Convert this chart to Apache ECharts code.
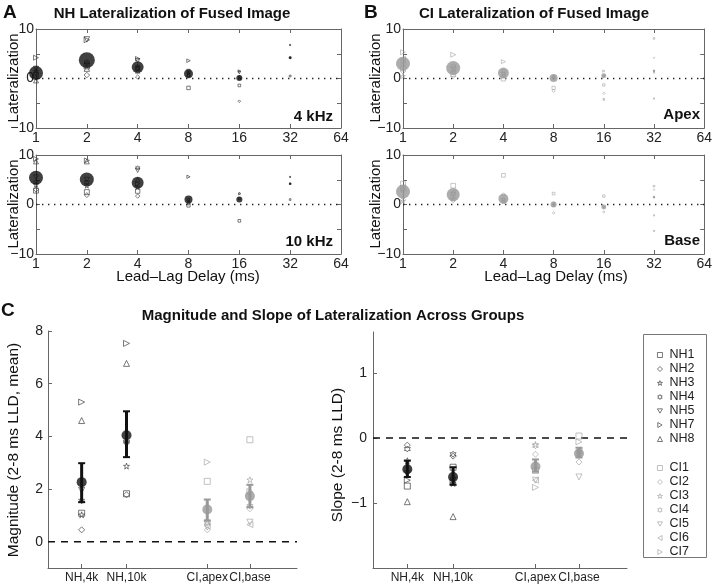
<!DOCTYPE html>
<html>
<head>
<meta charset="utf-8">
<script src="https://cdn.jsdelivr.net/npm/echarts@6/dist/echarts.min.js"></script>
<style>html,body{margin:0;padding:0;background:#fff}#c{width:715px;height:584px}</style>
</head>
<body>
<div id="c"></div>
<script>
// ---------- data ----------
const delays = [1, 2, 4, 8, 16, 32];
const delayTicks = [1, 2, 4, 8, 16, 32, 64];
const nhSubjects = ['NH1', 'NH2', 'NH3', 'NH4', 'NH5', 'NH7', 'NH8'];
const ciSubjects = ['CI1', 'CI2', 'CI3', 'CI4', 'CI5', 'CI6', 'CI7'];

// Panel A, 4 kHz
const nh4kMean = [1.1, 3.7, 2.3, 0.95, 0.1, 4.2];
const nh4kFused = [0.86, 1.0, 0.71, 0.5, 0.29, 0.07];
const nh4kSubj = [
  [0.8, 2.5, 2.0, -1.9, -1.4, 0.5],
  [0.3, 0.7, 0.3, 0.5, -4.6, null],
  [1.5, 3.0, 2.5, 1.0, 0.3, 6.8],
  [1.0, 3.3, 2.0, 1.2, 0.0, 4.2],
  [2.0, 7.9, 3.6, 1.5, 1.2, null],
  [4.2, 7.8, 4.0, 3.6, 1.5, null],
  [-0.4, 2.0, 1.5, 0.8, null, null]
];
// Panel A, 10 kHz
const nh10kMean = [5.4, 5.05, 4.4, 1.0, 1.0, 4.2];
const nh10kFused = [0.86, 0.86, 0.71, 0.43, 0.29, 0.04];
const nh10kSubj = [
  [2.8, 2.5, 2.7, -0.2, -3.3, 1.0],
  [3.0, 1.9, 1.7, 0.2, null, null],
  [4.0, 3.8, 3.5, 0.5, 2.2, 5.6],
  [4.5, 4.5, 7.4, 1.0, 1.2, 4.2],
  [5.5, 5.0, 6.9, null, null, null],
  [9.2, 8.9, 4.2, 5.6, null, null],
  [8.7, 8.7, 5.0, null, null, null]
];
// Panel B, apex
const ciApexMean = [3.0, 2.1, 1.1, 0.1, 0.55, 1.5];
const ciApexFused = [0.86, 0.86, 0.64, 0.43, 0.21, 0.03];
const ciApexSubj = [
  [2.0, 0.9, -0.1, -1.9, -1.3, 8.1],
  [1.4, 0.5, 0.5, -2.5, -3.0, 4.2],
  [0.5, 1.5, 1.0, 0.5, -4.2, 1.6],
  [3.5, 2.5, 1.5, 0.1, 0.5, 1.2],
  [2.5, 1.8, 0.8, 0.0, null, -4.1],
  [4.0, 2.2, 0.6, null, null, null],
  [5.3, 4.8, 3.4, null, 1.5, null]
];
// Panel B, base
const ciBaseMean = [2.6, 2.0, 1.15, 0.0, -0.5, 1.5];
const ciBaseFused = [0.86, 0.79, 0.57, 0.29, 0.21, 0.03];
const ciBaseSubj = [
  [4.2, 3.8, 5.9, 2.2, 1.7, 3.7],
  [1.0, 0.8, 2.0, -1.7, -1.5, 3.0],
  [0.7, 1.1, 0.5, 0.3, -0.5, 1.5],
  [3.0, 2.2, 1.0, -0.2, null, -2.2],
  [2.5, 2.0, 0.8, null, null, -5.4],
  [3.5, 2.5, 0.7, null, null, null],
  [3.2, 1.5, null, null, null, null]
];

// Panel C
const groups = ['NH,4k', 'NH,10k', 'CI,apex', 'CI,base'];
const groupPos = [1, 2, 3.8, 4.75];
const magMean = [2.26, 4.04, 1.22, 1.73];
const magLo = [1.5, 3.21, 0.8, 1.31];
const magHi = [2.98, 4.95, 1.6, 2.16];
const slopeMean = [-0.48, -0.6, -0.44, -0.24];
const slopeLo = [-0.6, -0.72, -0.52, -0.3];
const slopeHi = [-0.35, -0.45, -0.33, -0.15];
const nhMag = [[1.08, 1.82], [0.45, 1.78], [1.02, 2.87], [1.55, 3.8], [1.95, 3.7], [5.3, 7.53], [4.6, 6.77]];
const ciMag = [[2.29, 3.87], [0.45, 1.25], [0.8, 2.35], [0.7, 1.35], [0.55, 0.74], [0.6, 0.65], [3.02, 1.9]];
const nhSlope = [[-0.74, -0.45], [-0.11, -0.28], [-0.35, -0.7], [-0.17, -0.25], [-0.55, -0.65], [-0.65, -0.68], [-0.98, -1.21]];
const ciSlope = [[-0.5, 0.03], [-0.25, -0.37], [-0.1, -0.2], [-0.12, -0.25], [-0.65, -0.6], [-0.65, -0.2], [-0.76, -0.06]];

// ---------- styles ----------
const FONT = 'Liberation Sans, Arial, Helvetica, sans-serif';
const AX = '#666';
const TXT = '#222';
const NH_C = '#333', CI_C = '#a8a8a8', NH_MEAN = '#111', CI_MEAN = '#999';
const SYM = {
  square: 'rect',
  diamond: 'diamond',
  star: 'path://M5,0L6.18,3.62L10,3.62L6.91,5.86L8.09,9.51L5,7.27L1.91,9.51L3.09,5.86L0,3.62L3.82,3.62Z',
  hex: 'path://M5,0L6.44,2.5L9.33,2.5L7.89,5L9.33,7.5L6.44,7.5L5,10L3.56,7.5L0.67,7.5L2.11,5L0.67,2.5L3.56,2.5Z',
  down: 'path://M0,0L10,0L5,8.66Z',
  right: 'path://M0,0L8.66,5L0,10Z',
  left: 'path://M8.66,0L0,5L8.66,10Z',
  up: 'triangle'
};
const nhSym = [SYM.square, SYM.diamond, SYM.star, SYM.hex, SYM.down, SYM.right, SYM.up];
const ciSym = [SYM.square, SYM.diamond, SYM.star, SYM.hex, SYM.down, SYM.left, SYM.right];

function hollow(c, w) { return { color: 'rgba(255,255,255,0)', borderColor: c, borderWidth: w || 0.9 }; }

// ---------- layout ----------
const grids = [
  { left: 36, top: 29, width: 305, height: 99 },
  { left: 36, top: 155, width: 305, height: 99 },
  { left: 403, top: 29, width: 304, height: 99 },
  { left: 403, top: 155, width: 304, height: 99 },
  { left: 48, top: 331, width: 249, height: 237 },
  { left: 373, top: 332, width: 254, height: 237 }
];

const xAxes = [], yAxes = [], series = [];
for (let g = 0; g < 4; g++) {
  xAxes.push({
    gridIndex: g, type: 'log', logBase: 2, min: 1, max: 64, position: 'bottom',
    axisLine: { onZero: false, lineStyle: { color: AX } },
    axisTick: { inside: true, length: 4, lineStyle: { color: AX } },
    axisLabel: { color: TXT, fontSize: 14, fontFamily: FONT, margin: 3 },
    splitLine: { show: false }, minorTick: { show: false }
  });
}
for (let g = 0; g < 4; g++) {
  xAxes.push({
    gridIndex: g, type: 'log', logBase: 2, min: 1, max: 64, position: 'top',
    axisLine: { onZero: false, lineStyle: { color: AX } },
    axisTick: { inside: true, length: 4, lineStyle: { color: AX } },
    axisLabel: { show: false }, splitLine: { show: false }
  });
}
for (let g = 0; g < 4; g++) {
  yAxes.push({
    gridIndex: g, type: 'value', min: -10, max: 10, interval: 5, position: 'left',
    axisLine: { show: true, onZero: false, lineStyle: { color: AX } },
    axisTick: { show: true, inside: true, length: 4, lineStyle: { color: AX } },
    axisLabel: {
      color: TXT, fontSize: 14, fontFamily: FONT, margin: 2,
      formatter: v => (v === 10 ? '10' : v === 0 ? '0' : v === -10 ? '\u221210' : '')
    },
    splitLine: { show: false }
  });
}
for (let g = 0; g < 4; g++) {
  yAxes.push({
    gridIndex: g, type: 'value', min: -10, max: 10, interval: 5, position: 'right',
    axisLine: { show: true, onZero: false, lineStyle: { color: AX } },
    axisTick: { show: true, inside: true, length: 4, lineStyle: { color: AX } },
    axisLabel: { show: false }, splitLine: { show: false }
  });
}
// Panel C axes (x index 8, 9; y index 8, 9)
[4, 5].forEach(g => {
  xAxes.push({
    gridIndex: g, type: 'value', min: 0.25, max: 5.8,
    axisLine: { onZero: false, lineStyle: { color: AX } },
    axisTick: { inside: true, length: 4, customValues: groupPos, lineStyle: { color: AX } },
    axisLabel: {
      color: TXT, fontSize: 12, fontFamily: FONT, margin: 4, customValues: groupPos,
      hideOverlap: false, interval: 0,
      formatter: v => {
        const i = groupPos.findIndex(p => Math.abs(p - v) < 1e-6);
        return i >= 0 ? groups[i] : '';
      }
    },
    splitLine: { show: false }
  });
});
yAxes.push({
  gridIndex: 4, type: 'value', min: -1, max: 8,
  axisLine: { show: true, onZero: false, lineStyle: { color: AX } },
  axisTick: { show: true, inside: true, length: 4, customValues: [0, 2, 4, 6, 8], lineStyle: { color: AX } },
  axisLabel: { color: TXT, fontSize: 14, fontFamily: FONT, margin: 5, customValues: [0, 2, 4, 6, 8] },
  splitLine: { show: false }
});
yAxes.push({
  gridIndex: 5, type: 'value', min: -2, max: 1.63,
  axisLine: { show: true, onZero: false, lineStyle: { color: AX } },
  axisTick: { show: true, inside: true, length: 4, customValues: [-1, 0, 1], lineStyle: { color: AX } },
  axisLabel: {
    color: TXT, fontSize: 14, fontFamily: FONT, margin: 6, customValues: [-1, 0, 1],
    formatter: v => (v < 0 ? '\u2212' + Math.abs(v) : String(v))
  },
  splitLine: { show: false }
});

// ---------- panels A / B ----------
function lagPanel(g, subj, names, syms, mean, fused, indColor, meanColor) {
  series.push({
    type: 'line', xAxisIndex: g, yAxisIndex: g, silent: true, symbol: 'none', z: 1,
    data: [[1, 0], [64, 0]],
    lineStyle: { color: '#222', width: 1.4, type: [1.4, 4.6] }
  });
  subj.forEach((vals, s) => {
    const data = [];
    vals.forEach((v, i) => { if (v !== null) data.push([delays[i], v, i]); });
    series.push({
      type: 'scatter', name: names[s], xAxisIndex: g, yAxisIndex: g, z: 2, silent: true,
      symbol: syms[s],
      symbolSize: val => 1.5 + 4 * fused[val[2]],
      itemStyle: hollow(indColor, 0.8),
      data
    });
  });
  series.push({
    type: 'scatter', xAxisIndex: g, yAxisIndex: g, z: 3, silent: true, symbol: 'circle',
    symbolSize: val => 2 + 14 * fused[val[2]],
    itemStyle: { color: meanColor },
    data: mean.map((m, i) => [delays[i], m, i])
  });
}
lagPanel(0, nh4kSubj, nhSubjects, nhSym, nh4kMean, nh4kFused, NH_C, NH_MEAN);
lagPanel(1, nh10kSubj, nhSubjects, nhSym, nh10kMean, nh10kFused, NH_C, NH_MEAN);
lagPanel(2, ciApexSubj, ciSubjects, ciSym, ciApexMean, ciApexFused, CI_C, CI_MEAN);
lagPanel(3, ciBaseSubj, ciSubjects, ciSym, ciBaseMean, ciBaseFused, CI_C, CI_MEAN);

// ---------- panel C ----------
function errRender(params, api) {
  const x = api.value(0), lo = api.value(1), hi = api.value(2), idx = api.value(3);
  const p1 = api.coord([x, lo]), p2 = api.coord([x, hi]);
  const cap = 3.5;
  const col = idx < 2 ? NH_MEAN : CI_MEAN;
  return {
    type: 'group', children: [
      { type: 'line', shape: { x1: p1[0], y1: p1[1], x2: p2[0], y2: p2[1] }, style: { stroke: col, lineWidth: 3 } },
      { type: 'line', shape: { x1: p1[0] - cap, y1: p1[1], x2: p1[0] + cap, y2: p1[1] }, style: { stroke: col, lineWidth: 2 } },
      { type: 'line', shape: { x1: p2[0] - cap, y1: p2[1], x2: p2[0] + cap, y2: p2[1] }, style: { stroke: col, lineWidth: 2 } }
    ]
  };
}
function groupPanel(ax, nhVals, ciVals, mean, lo, hi) {
  series.push({
    type: 'line', xAxisIndex: ax, yAxisIndex: ax, silent: true, symbol: 'none', z: 1,
    data: [[0.25, 0], [5.8, 0]],
    lineStyle: { color: '#111', width: 1.5, type: [7, 6] }
  });
  nhVals.forEach((vals, s) => {
    series.push({
      type: 'scatter', name: nhSubjects[s], xAxisIndex: ax, yAxisIndex: ax, z: 2, silent: true,
      symbol: nhSym[s], symbolSize: 6, itemStyle: hollow('#444', 0.9),
      data: vals.map((v, i) => [groupPos[i], v])
    });
  });
  ciVals.forEach((vals, s) => {
    series.push({
      type: 'scatter', name: ciSubjects[s], xAxisIndex: ax, yAxisIndex: ax, z: 2, silent: true,
      symbol: ciSym[s], symbolSize: 6, itemStyle: hollow(CI_C, 0.9),
      data: vals.map((v, i) => [groupPos[i + 2], v])
    });
  });
  series.push({
    type: 'custom', xAxisIndex: ax, yAxisIndex: ax, z: 3, silent: true,
    renderItem: errRender,
    encode: { x: 0, y: [1, 2] },
    data: mean.map((m, i) => [groupPos[i], lo[i], hi[i], i])
  });
  series.push({
    type: 'scatter', xAxisIndex: ax, yAxisIndex: ax, z: 4, silent: true, symbol: 'circle', symbolSize: 10,
    data: mean.map((m, i) => ({ value: [groupPos[i], m], itemStyle: { color: i < 2 ? NH_MEAN : CI_MEAN } }))
  });
}
groupPanel(8, nhMag, ciMag, magMean, magLo, magHi);
groupPanel(9, nhSlope, ciSlope, slopeMean, slopeLo, slopeHi);

// ---------- legend ----------
function legendItems(names, syms, color) {
  return names.map((n, i) => ({ name: n, icon: syms[i], itemStyle: hollow(color, 0.9) }));
}
const legendCommon = {
  orient: 'vertical', left: 652, itemWidth: 5, itemHeight: 5, itemGap: 0, selectedMode: false,
  textStyle: { fontSize: 12.5, fontFamily: FONT, color: TXT, lineHeight: 14, padding: [0, 0, 0, 2] }
};

// ---------- text ----------
function txt(x, y, s, size, bold, align, rot) {
  return {
    type: 'text', x, y, rotation: rot || 0, silent: true,
    style: { text: s, fontSize: size, fontWeight: bold ? 'bold' : 'normal', fontFamily: FONT, fill: '#111',
      align: align || 'center', verticalAlign: 'middle' }
  };
}
const graphics = [
  txt(3, 13, 'A', 19, true, 'left'),
  txt(364, 13, 'B', 19, true, 'left'),
  txt(1, 311, 'C', 19, true, 'left'),
  txt(172, 14, 'NH Lateralization of Fused Image', 15, true),
  txt(534, 14, 'CI Lateralization of Fused Image', 15, true),
  txt(333, 316, 'Magnitude and Slope of Lateralization Across Groups', 15, true),
  txt(333, 117, '4 kHz', 15, true, 'right'),
  txt(333, 242, '10 kHz', 15, true, 'right'),
  txt(700, 115, 'Apex', 15, true, 'right'),
  txt(700, 241, 'Base', 15, true, 'right'),
  txt(188, 277, 'Lead\u2013Lag Delay (ms)', 15, false),
  txt(556, 277, 'Lead\u2013Lag Delay (ms)', 15, false),
  txt(14, 78, 'Lateralization', 15, false, 'center', Math.PI / 2),
  txt(14, 204, 'Lateralization', 15, false, 'center', Math.PI / 2),
  txt(376, 78, 'Lateralization', 15, false, 'center', Math.PI / 2),
  txt(376, 204, 'Lateralization', 15, false, 'center', Math.PI / 2),
  txt(14, 450, 'Magnitude (2-8 ms LLD, mean)', 15.5, false, 'center', Math.PI / 2),
  txt(338, 455, 'Slope (2-8 ms LLD)', 15.5, false, 'center', Math.PI / 2),
  { type: 'rect', silent: true, shape: { x: 643.5, y: 334.5, width: 63, height: 223 },
    style: { fill: 'none', stroke: '#777', lineWidth: 1 }, z: -1 }
];

const chart = echarts.init(document.getElementById('c'), null, { renderer: 'canvas' });
chart.setOption({
  animation: false,
  backgroundColor: '#fff',
  grid: grids,
  xAxis: xAxes,
  yAxis: yAxes,
  legend: [
    Object.assign({}, legendCommon, { top: 343, data: legendItems(nhSubjects, nhSym, '#444') }),
    Object.assign({}, legendCommon, { top: 456, data: legendItems(ciSubjects, ciSym, CI_C) })
  ],
  graphic: graphics,
  series
});
</script>
</body>
</html>
